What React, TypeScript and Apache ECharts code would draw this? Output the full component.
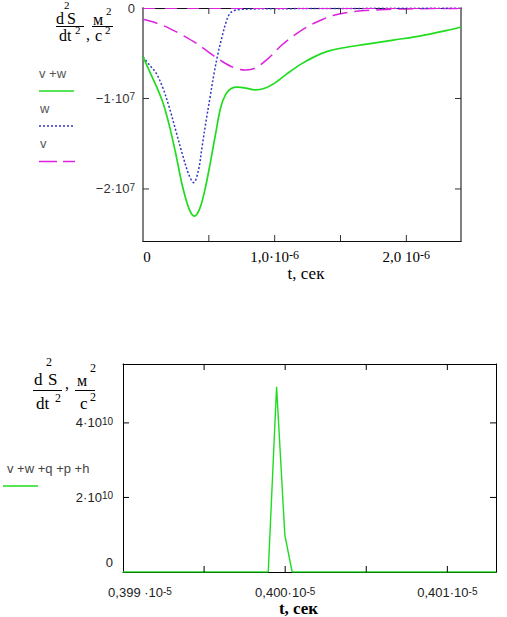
import React, { useEffect, useRef } from "react";
import * as echarts from "echarts";

// ---------- Top chart data (t in microseconds, acceleration in m/s^2) ----------
const seriesNamesTop = ["v +w", "w", "v"];

const tVW = [0, 0.05, 0.1, 0.15, 0.2, 0.25, 0.3, 0.35, 0.39, 0.43, 0.47, 0.51, 0.55, 0.59, 0.63, 0.67, 0.72, 0.78, 0.85, 0.92, 1.0, 1.1, 1.2, 1.3, 1.4, 1.5, 1.7, 1.9, 2.1, 2.3, 2.415];
const aVW = [-0.54e7, -0.7e7, -0.86e7, -1.04e7, -1.3e7, -1.62e7, -1.97e7, -2.22e7, -2.3e7, -2.22e7, -2.01e7, -1.72e7, -1.4e7, -1.1e7, -0.95e7, -0.89e7, -0.875e7, -0.885e7, -0.905e7, -0.89e7, -0.83e7, -0.72e7, -0.62e7, -0.54e7, -0.48e7, -0.445e7, -0.4e7, -0.355e7, -0.31e7, -0.25e7, -0.21e7];

const tW = [0, 0.05, 0.1, 0.15, 0.2, 0.25, 0.3, 0.35, 0.385, 0.42, 0.45, 0.48, 0.51, 0.54, 0.57, 0.6, 0.63, 0.66, 0.7, 0.75, 0.85, 1.0, 1.5, 2.0, 2.415];
const aW = [-0.54e7, -0.63e7, -0.72e7, -0.88e7, -1.1e7, -1.36e7, -1.62e7, -1.85e7, -1.93e7, -1.8e7, -1.52e7, -1.24e7, -0.98e7, -0.72e7, -0.5e7, -0.32e7, -0.16e7, -0.06e7, -0.025e7, -0.015e7, -0.01e7, -0.008e7, -0.005e7, -0.003e7, -0.002e7];

const tV = [0, 0.1, 0.2, 0.3, 0.4, 0.5, 0.6, 0.7, 0.78, 0.85, 0.95, 1.05, 1.15, 1.25, 1.35, 1.45, 1.6, 1.8, 2.0, 2.2, 2.415];
const aV = [-0.125e7, -0.165e7, -0.225e7, -0.3e7, -0.385e7, -0.49e7, -0.59e7, -0.665e7, -0.685e7, -0.665e7, -0.56e7, -0.415e7, -0.3e7, -0.205e7, -0.135e7, -0.08e7, -0.04e7, -0.02e7, -0.01e7, -0.006e7, -0.004e7];

const topXMax = 2.415;
const topXInterval = 0.5;
const topYMin = -2.575e7;
const topXTicks = [0.5, 1, 1.5, 2];
const topYTicks = [-2e7, -1e7];
const topXLabelValues = [0, 1, 2];
const topXLabelTexts = ["0", "1,0·10", "2,0 10"];
const topXLabelExps = ["", "-6", "-6"];
const topYLabelValues = [-2e7, -1e7, 0];
const topYLabelTexts = ["−2·10", "−1·10", "0"];
const topYLabelExps = ["7", "7", ""];

// ---------- Bottom chart data (t in units of 1e-5 s) ----------
const seriesNameBottom = "v +w +q +p +h";
const tSum = [0.399, 0.3998957, 0.399947, 0.399998, 0.400043, 0.4013];
const aSum = [0, 0, 4.97e10, 0.99e10, 0, 0];

const botXMin = 0.399;
const botXMax = 0.4013;
const botXInterval = 0.0005;
const botYMax = 5.58e10;
const botYInterval = 2e10;
const botXTicks = [0.3995, 0.4, 0.4005, 0.401];
const botYTicks = [2e10, 4e10];
const botXLabelValues = [0.399, 0.4, 0.401];
const botXLabelTexts = ["0,399 ·10", "0,400·10", "0,401·10"];
const botXLabelExps = ["-5", "-5", "-5"];
const botYLabelValues = [0, 2e10, 4e10];
const botYLabelTexts = ["0", "2·10", "4·10"];
const botYLabelExps = ["", "10", "10"];

const GREEN = "#1fdc1f";
const BLUE = "#3535c8";
const MAGENTA = "#dd22dd";

const SANS = "'Liberation Sans', Arial, sans-serif";
const SERIF = "'Liberation Serif', 'Times New Roman', serif";

function zip(a: number[], b: number[]) {
  return a.map((x, i) => [x, b[i]]);
}

function makeFormatter(values: number[], texts: string[], exps: string[], firstKey = "m") {
  return (v: number) => {
    let idx = -1;
    for (let i = 0; i < values.length; i++) {
      const tol = Math.max(Math.abs(values[i]), 1e-9) * 1e-6;
      if (Math.abs(values[i] - v) <= tol) idx = i;
    }
    if (idx < 0) return "";
    const key = idx === 0 ? firstKey : "m";
    return exps[idx] ? `{${key}|${texts[idx]}}{s|${exps[idx]}}` : `{${key}|${texts[idx]}}`;
  };
}

function rich(font: string, size: number, color: string, firstPad: number[] = [6, 0, 0, 0]) {
  const sup = Math.round(size * 0.78);
  return {
    m: { fontFamily: font, fontSize: size, lineHeight: size, color, padding: [6, 0, 0, 0], verticalAlign: "bottom" },
    f: { fontFamily: font, fontSize: size, lineHeight: size, color, padding: firstPad, verticalAlign: "bottom" },
    s: { fontFamily: font, fontSize: sup, lineHeight: sup, color, verticalAlign: "top" },
  };
}

// inward tick marks drawn through the axes' own scales (dir: 0 up, 1 down, 2 right, 3 left)
function tickSeries(xAxisIndex: number, yAxisIndex: number, items: number[][], color: string) {
  return {
    type: "custom",
    xAxisIndex,
    yAxisIndex,
    silent: true,
    clip: false,
    z: 10,
    data: items,
    renderItem: (_params: any, api: any) => {
      const p = api.coord([api.value(0), api.value(1)]);
      const d = api.value(2);
      const L = 6;
      let x2 = p[0];
      let y2 = p[1];
      if (d === 0) y2 -= L;
      else if (d === 1) y2 += L;
      else if (d === 2) x2 += L;
      else x2 -= L;
      return {
        type: "line",
        shape: { x1: p[0], y1: p[1], x2, y2 },
        style: { stroke: color, lineWidth: 1 },
      };
    },
  };
}

function txt(text: string, x: number, y: number, size: number, font = SERIF, fill = "#000", weight = "normal") {
  return {
    type: "text",
    x,
    y,
    silent: true,
    style: {
      text,
      fontSize: size,
      fontFamily: font,
      fontWeight: weight,
      fill,
      align: "left",
      verticalAlign: "middle",
      textAlign: "left",
      textVerticalAlign: "middle",
    },
  };
}

function ln(x1: number, y1: number, x2: number, y2: number, stroke: string, lineWidth = 1, lineDash?: number[]) {
  return {
    type: "line",
    silent: true,
    shape: { x1, y1, x2, y2 },
    style: { stroke, lineWidth, lineDash },
  };
}

export default function App() {
  const ref = useRef<HTMLDivElement>(null);

  useEffect(() => {
    if (!ref.current) return;
    const chart = echarts.init(ref.current, undefined, { renderer: "svg" });

    const topTickItems = [
      ...topXTicks.map((v) => [v, topYMin, 0]),
      ...topXTicks.map((v) => [v, 0, 1]),
      ...topYTicks.map((v) => [0, v, 2]),
      ...topYTicks.map((v) => [topXMax, v, 3]),
    ];
    const botTickItems = [
      ...botXTicks.map((v) => [v, 0, 0]),
      ...botXTicks.map((v) => [v, botYMax, 1]),
      ...botYTicks.map((v) => [botXMin, v, 2]),
      ...botYTicks.map((v) => [botXMax, v, 3]),
    ];

    const option: any = {
      animation: false,
      backgroundColor: "#fff",
      grid: [
        { left: 143, top: 8, width: 318, height: 233, containLabel: false, outerBoundsMode: "none" },
        { left: 123, top: 364, width: 373, height: 208, containLabel: false, outerBoundsMode: "none" },
      ],
      xAxis: [
        {
          gridIndex: 0,
          type: "value",
          min: 0,
          max: topXMax,
          interval: topXInterval,
          position: "bottom",
          axisLine: { show: true, onZero: false, lineStyle: { color: "#111", width: 1 } },
          axisTick: { show: false },
          axisLabel: {
            formatter: makeFormatter(topXLabelValues, topXLabelTexts, topXLabelExps, "f"),
            rich: rich(SERIF, 15, "#000", [6, 0, 0, 8]),
            margin: 8,
            hideOverlap: false,
            showMinLabel: true,
            showMaxLabel: true,
          },
          splitLine: { show: false },
          name: "t, сек",
          nameLocation: "middle",
          nameGap: 24,
          nameTextStyle: { fontFamily: SERIF, fontSize: 17, color: "#000", padding: [0, 0, 0, 8] },
        },
        {
          gridIndex: 0,
          type: "value",
          min: 0,
          max: topXMax,
          position: "top",
          axisLine: { show: true, onZero: false, lineStyle: { color: "#111", width: 1 } },
          axisTick: { show: false },
          axisLabel: { show: false },
          splitLine: { show: false },
        },
        {
          gridIndex: 1,
          type: "value",
          min: botXMin,
          max: botXMax,
          interval: botXInterval,
          position: "bottom",
          axisLine: { show: true, onZero: false, lineStyle: { color: "#000", width: 1 } },
          axisTick: { show: false },
          axisLabel: {
            formatter: makeFormatter(botXLabelValues, botXLabelTexts, botXLabelExps, "f"),
            rich: rich(SANS, 13, "#222", [6, 0, 0, 34]),
            margin: 14,
            hideOverlap: false,
            showMinLabel: true,
            showMaxLabel: true,
          },
          splitLine: { show: false },
          name: "t, сек",
          nameLocation: "middle",
          nameGap: 24,
          nameTextStyle: { fontFamily: SERIF, fontSize: 17, fontWeight: "bold", color: "#000", padding: [0, 22, 0, 0] },
        },
        {
          gridIndex: 1,
          type: "value",
          min: botXMin,
          max: botXMax,
          position: "top",
          axisLine: { show: true, onZero: false, lineStyle: { color: "#000", width: 1 } },
          axisTick: { show: false },
          axisLabel: { show: false },
          splitLine: { show: false },
        },
      ],
      yAxis: [
        {
          gridIndex: 0,
          type: "value",
          min: topYMin,
          max: 0,
          position: "left",
          axisLine: { show: true, onZero: false, lineStyle: { color: "#808080", width: 2 } },
          axisTick: { show: false },
          axisLabel: {
            customValues: topYLabelValues,
            formatter: makeFormatter(topYLabelValues, topYLabelTexts, topYLabelExps),
            rich: rich(SANS, 13, "#333"),
            margin: 8,
            hideOverlap: false,
          },
          splitLine: { show: false },
        },
        {
          gridIndex: 0,
          type: "value",
          min: topYMin,
          max: 0,
          position: "right",
          axisLine: { show: true, onZero: false, lineStyle: { color: "#808080", width: 2 } },
          axisTick: { show: false },
          axisLabel: { show: false },
          splitLine: { show: false },
        },
        {
          gridIndex: 1,
          type: "value",
          min: 0,
          max: botYMax,
          interval: botYInterval,
          position: "left",
          axisLine: { show: true, onZero: false, lineStyle: { color: "#000", width: 1 } },
          axisTick: { show: false },
          axisLabel: {
            formatter: makeFormatter(botYLabelValues, botYLabelTexts, botYLabelExps, "f"),
            rich: rich(SANS, 13, "#222", [0, 0, 10, 0]),
            margin: 10,
            hideOverlap: false,
            showMinLabel: true,
          },
          splitLine: { show: false },
        },
        {
          gridIndex: 1,
          type: "value",
          min: 0,
          max: botYMax,
          position: "right",
          axisLine: { show: true, onZero: false, lineStyle: { color: "#000", width: 1 } },
          axisTick: { show: false },
          axisLabel: { show: false },
          splitLine: { show: false },
        },
      ],
      series: [
        {
          name: seriesNamesTop[0],
          type: "line",
          xAxisIndex: 0,
          yAxisIndex: 0,
          data: zip(tVW, aVW),
          smooth: 0.35,
          symbol: "none",
          lineStyle: { color: GREEN, width: 1.7 },
          z: 5,
        },
        {
          name: seriesNamesTop[1],
          type: "line",
          xAxisIndex: 0,
          yAxisIndex: 0,
          data: zip(tW, aW),
          smooth: 0.35,
          symbol: "none",
          lineStyle: { color: BLUE, width: 1.5, type: [2, 2] },
          z: 4,
        },
        {
          name: seriesNamesTop[2],
          type: "line",
          xAxisIndex: 0,
          yAxisIndex: 0,
          data: zip(tV, aV),
          smooth: 0.35,
          symbol: "none",
          lineStyle: { color: MAGENTA, width: 1.5, type: [15, 7] },
          z: 3,
          markLine: {
            silent: true,
            symbol: "none",
            label: { show: false },
            lineStyle: { color: MAGENTA, width: 1, type: [12, 10] },
            data: [{ yAxis: 0 }],
          },
        },
        {
          name: seriesNameBottom,
          type: "line",
          xAxisIndex: 2,
          yAxisIndex: 2,
          data: zip(tSum, aSum),
          symbol: "none",
          lineStyle: { color: GREEN, width: 1.4 },
          z: 5,
        },
        tickSeries(0, 0, topTickItems, "#333"),
        tickSeries(2, 2, botTickItems, "#000"),
      ],
      graphic: [
        // top y-axis title: d^2S/dt^2, m^2/c^2
        txt("d", 56, 18, 16),
        txt("S", 67, 18, 16),
        txt("2", 64, 5, 11),
        ln(56, 26.5, 84, 26.5, "#000", 1),
        txt("dt", 59, 35, 16),
        txt("2", 75, 30, 11),
        txt(",", 86, 34, 16),
        txt("м", 93, 19, 16),
        txt("2", 106, 11, 11),
        ln(92, 26.5, 113, 26.5, "#000", 1),
        txt("с", 95, 35, 16),
        txt("2", 105, 30, 11),
        // top legend
        txt(seriesNamesTop[0], 39, 73, 13, SANS, "#555"),
        ln(39, 91, 74, 91, GREEN, 1.6),
        txt(seriesNamesTop[1], 40, 108, 13, SANS, "#555"),
        ln(39, 126, 74, 126, BLUE, 1.5, [2, 2]),
        txt(seriesNamesTop[2], 40, 143, 13, SANS, "#555"),
        ln(39, 161.5, 75, 161.5, MAGENTA, 1.5, [18, 6]),
        // bottom y-axis title
        txt("d", 34, 379, 17),
        txt("S", 48, 379, 17),
        txt("2", 46, 362, 12),
        ln(33, 390.5, 62, 390.5, "#000", 1),
        txt("dt", 36, 403, 17),
        txt("2", 55, 398, 12),
        txt(",", 65, 383, 16),
        txt("м", 77, 380, 16),
        txt("2", 90, 368, 12),
        ln(75, 390.5, 95, 390.5, "#000", 1),
        txt("с", 80, 403, 17),
        txt("2", 90, 397, 12),
        // bottom legend
        txt(seriesNameBottom, 7, 468, 13, SANS, "#444"),
        ln(3, 486, 38, 486, GREEN, 1.4),
      ],
    };

    chart.setOption(option);
    return () => chart.dispose();
  }, []);

  return (
    <div
      ref={ref}
      style={{ position: "absolute", left: 0, top: 0, width: 507, height: 617, background: "#fff" }}
    />
  );
}
